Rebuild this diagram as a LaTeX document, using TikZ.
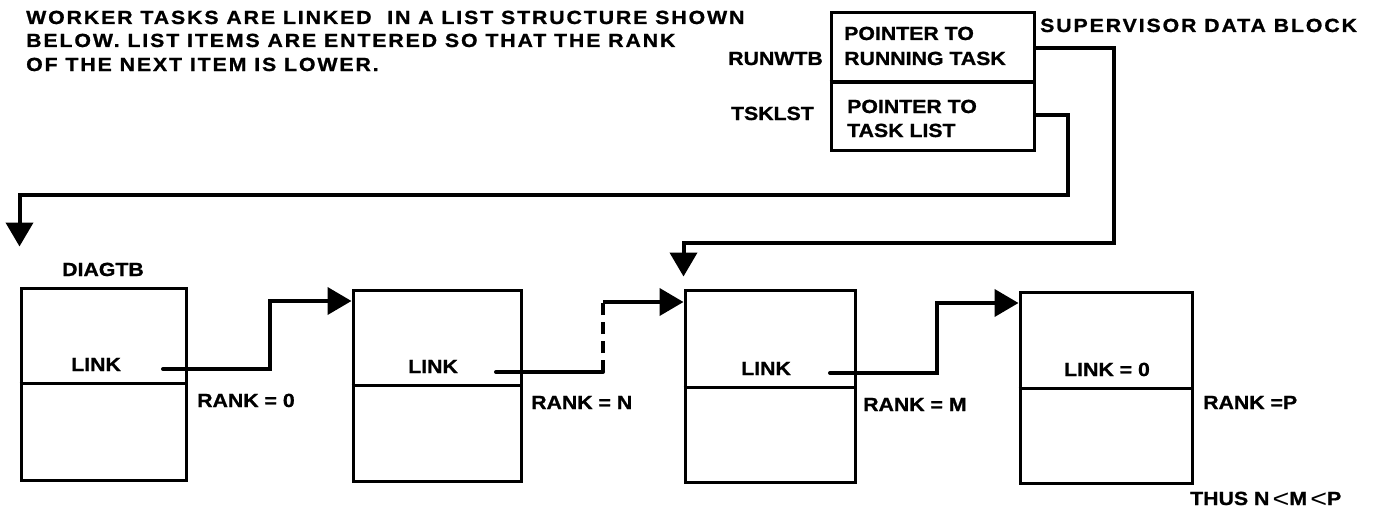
\documentclass[tikz,border=0pt]{standalone}
\usepackage{fontspec}
\setmainfont{Liberation Sans}[FakeStretch=1.12,FakeBold=1.0]
\newfontfamily\widefont{Liberation Sans}[FakeStretch=1.12,FakeBold=1.0,LetterSpace=10]
\newfontfamily\ltfont{Liberation Sans}[FakeStretch=1.15]
\newcommand\thinlt{\raisebox{-2.5pt}{\fontsize{25}{25}\ltfont\mdseries <}}
\usetikzlibrary{arrows.meta,calc}
\begin{document}
\begin{tikzpicture}[x=1pt,y=-1pt,
  lbl/.style={font=\fontsize{19}{23}\selectfont\bfseries, inner sep=0pt, anchor=base west},
  lblc/.style={lbl, anchor=base},
  lble/.style={lbl, anchor=base east},
  wide/.style={lbl, font=\fontsize{19}{23}\widefont\bfseries},
  cell/.style={draw, line width=3pt, inner sep=0pt, rectangle},
  divider/.style={line width=3pt},
  link/.style={line width=4pt, line cap=round, line join=miter,
    -{Triangle[length=24pt,width=27pt]}},
  ptr/.style={line width=4pt, line join=miter,
    -{Triangle[length=24pt,width=27pt]}},
  dashseg/.style={line width=4pt, dash pattern=on 12pt off 7pt}
]
\fill[white] (0,0) rectangle (1376,511);
\useasboundingbox (0,0) rectangle (1376,511);

% heading
\node[wide] (h1) at (26,24) {WORKER TASKS ARE LINKED\ \ IN A LIST STRUCTURE SHOWN};
\node[wide] (h2) at (26,47) {BELOW. LIST ITEMS ARE ENTERED SO THAT THE RANK};
\node[wide] (h3) at (26,71) {OF THE NEXT ITEM IS LOWER.};

% supervisor data block
\node[cell, minimum width=203pt, minimum height=137pt] (sup) at (932.5,81.5) {};
\draw[divider] (sup.west |- 0,82) -- (sup.east |- 0,82);
\node[lbl] (p1a) at (844,40) {POINTER TO};
\node[lbl] (p1b) at (844,65) {RUNNING TASK};
\node[lbl] (p2a) at (847,113) {POINTER TO};
\node[lbl] (p2b) at (847,137) {TASK LIST};
\node[lble] (runwtb) at (823,65) {RUNWTB};
\node[lble] (tsklst) at (814,120) {TSKLST};
\node[wide] (supname) at (1040,32) {SUPERVISOR DATA BLOCK};

% task boxes
\node[cell, minimum width=165pt, minimum height=192pt] (b1) at (103.5,384) {};
\node[cell, minimum width=168pt, minimum height=191pt] (b2) at (437,385.5) {};
\node[cell, minimum width=170pt, minimum height=192pt] (b3) at (770,386) {};
\node[cell, minimum width=172pt, minimum height=191pt] (b4) at (1106,387.5) {};
\draw[divider] (b1.west |- 0,383) -- (b1.east |- 0,383);
\draw[divider] (b2.west |- 0,385) -- (b2.east |- 0,385);
\draw[divider] (b3.west |- 0,387) -- (b3.east |- 0,387);
\draw[divider] (b4.west |- 0,388) -- (b4.east |- 0,388);

\node[lblc] (diagtb) at (103,276) {DIAGTB};
\node[lblc] (link1) at (96,371) {LINK};
\node[lblc] (link2) at (433,373) {LINK};
\node[lblc] (link3) at (766,375) {LINK};
\node[lblc] (link4) at (1107,376) {LINK = 0};

\node[lbl] (r1) at (197,407) {RANK = 0};
\node[lbl] (r2) at (531,409) {RANK = N};
\node[lbl] (r3) at (863,411) {RANK = M};
\node[lbl] (r4) at (1203,409) {RANK =P};
\node[lbl] (thus) at (1190,505) {THUS N\,\thinlt M\,\thinlt P};

% link start points
\coordinate (l1) at (163,369);
\coordinate (l2) at (496,372);
\coordinate (l3) at (830,373);

% list links
\draw[link] (l1) -- (270,369) -- (270,301) -- (b2.west |- 0,301);
\draw[line width=4pt, line cap=round] (l2) -- (603,372);
\draw[dashseg] (603,372) -- (603,302);
\draw[ptr] (603,302) -- (b3.west |- 0,302);
\draw[link] (l3) -- (937,373) -- (937,303) -- (b4.west |- 0,303);

% supervisor pointers
\coordinate (t1) at ([yshift=40pt]b1.north west);
\coordinate (t3) at ([yshift=12pt]b3.north west);
\draw[ptr] (sup.east |- 0,115) -- (1068,115) -- (1068,195) -- (t1 |- 0,195) -- (t1);
\draw[ptr] (sup.east |- 0,48) -- (1114,48) -- (1114,243) -- (t3 |- 0,243) -- (t3);
\end{tikzpicture}
\end{document}
